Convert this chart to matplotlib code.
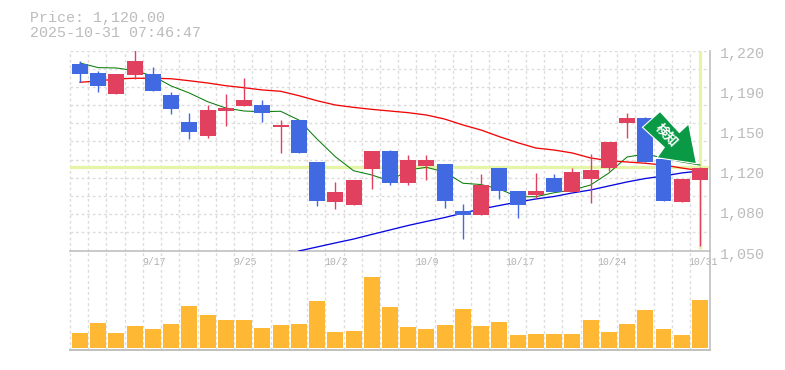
import matplotlib
matplotlib.use("Agg")
import matplotlib.pyplot as plt
from matplotlib.patches import Polygon
from matplotlib.transforms import Affine2D
import numpy as np

title_lines = ["Price: 1,120.00", "2025-10-31 07:46:47"]
current_price = 1120.0

opens = [1208.2,1200.6,1182.8,1198.9,1199.7,1181.9,1159.1,1147.3,1168.4,1172.6,1173.5,1154.9,1160.8,1125.3,1091.4,1088.9,1119.4,1134.6,1107.5,1121.9,1123.6,1083.8,1080.4,1120.2,1100.7,1097.4,1111.7,1099.9,1110.9,1120.2,1158.3,1162.5,1127.8,1091.4,1110.0]
closes = [1199.7,1189.6,1199.7,1210.7,1185.3,1170.1,1150.7,1169.3,1170.9,1177.7,1166.7,1156.6,1132.9,1092.3,1099.9,1110.0,1134.6,1107.5,1127.0,1127.0,1092.3,1080.4,1105.8,1100.7,1088.9,1100.7,1099.9,1116.8,1118.5,1142.2,1162.5,1125.3,1092.3,1110.9,1120.6]
highs = [1210.7,1202.2,1199.7,1220.0,1205.6,1184.5,1166.7,1173.5,1182.8,1196.3,1177.7,1160.8,1160.8,1125.3,1108.4,1110.0,1134.6,1135.4,1131.2,1131.2,1123.6,1089.8,1115.1,1120.2,1100.7,1116.0,1115.1,1120.2,1132.0,1142.2,1166.7,1163.3,1127.8,1110.9,1121.0]
lows = [1192.7,1184.5,1182.8,1195.7,1185.3,1165.9,1144.7,1145.6,1155.7,1172.6,1159.1,1132.9,1132.9,1088.1,1085.5,1088.9,1102.4,1105.8,1105.8,1110.0,1086.4,1060.1,1080.4,1094.0,1077.9,1094.8,1099.9,1099.9,1090.6,1117.7,1145.6,1125.3,1092.3,1091.4,1054.2]

ma_short = [1209.0,1205.1,1204.8,1202.5,1198.0,1189.6,1183.6,1176.3,1170.9,1168.4,1167.8,1168.2,1160.8,1144.7,1129.8,1117.9,1114.3,1109.2,1118.5,1120.8,1116.8,1107.3,1106.2,1102.4,1095.9,1095.9,1099.3,1101.6,1105.8,1115.9,1129.5,1132.0,1128.7,1125.3,1122.7]
ma_mid = [1192.7,1193.8,1195.5,1196.1,1196.1,1195.7,1194.0,1192.1,1189.8,1188.1,1186.2,1185.1,1181.4,1177.1,1173.5,1171.5,1169.8,1168.4,1167.0,1165.0,1161.6,1156.6,1152.3,1146.7,1141.6,1137.1,1135.4,1132.9,1128.7,1126.4,1125.3,1124.2,1122.7,1120.2,1117.9]
ma_long = [np.nan]*12 + [1050.0,1053.4,1056.8,1060.1,1064.0,1067.8,1071.6,1075.0,1078.3,1082.1,1085.5,1088.5,1091.4,1094.0,1096.1,1099.1,1101.6,1105.0,1108.4,1111.3,1113.4,1116.0,1117.7]

volumes = [15,25,15,22,19,24,42,33,28,28,20,23,24,47,16,17,71,41,21,19,23,39,22,26,13,14,14,14,28,16,24,38,19,13,48]

price_ticks = [1186, 1152, 1118, 1084]
price_tick_ends = [1220, 1050]
date_tick_idx = [4, 9, 14, 19, 24, 29, 34]
date_labels = ["9/17", "9/25", "10/2", "10/9", "10/17", "10/24", "10/31"]

RED, BLUE, ORANGE = "#e2405f", "#4169e1", "#ffb833"
GRID, AXIS, TEXT, HL = "#dcdcdc", "#c0c0c0", "#bcbcbc", "#e4f5a8"
W, H = 785, 370
MONO = "Liberation Mono"

fig = plt.figure(figsize=(W/100, H/100), dpi=100, facecolor="white")
def rect(l, t, r, b):
    return [l/W, 1-b/H, (r-l)/W, (b-t)/H]
ax = fig.add_axes(rect(70, 50.5, 710, 250.5))
av = fig.add_axes(rect(70, 250.5, 710, 350))

x = np.arange(len(opens))
xlim = (-0.548, 34.55)
for a in (ax, av):
    a.set_xlim(*xlim)
    a.set_facecolor("none")
    a.set_xticks([]); a.set_yticks([])
    for s in ("top", "left"):
        a.spines[s].set_visible(False)
    for s in ("bottom", "right"):
        a.spines[s].set_color(AXIS); a.spines[s].set_linewidth(1.2)
    a.vlines(xlim[0] + np.arange(35), 0, 1, transform=a.get_xaxis_transform(),
             colors=GRID, lw=1, linestyles=(0, (2, 2)), zorder=1, clip_on=False)
ax.spines["bottom"].set_visible(False)
ax.set_ylim(1050.42, 1219.58)
av.set_ylim(-2, 97.5)
av.spines["bottom"].set_linewidth(1.4)

# base line between panels
ax.axhline(1050.42, color=AXIS, lw=1.2, zorder=2, clip_on=False)
# horizontal dashed grid: 11 equal intervals
ax.hlines(np.linspace(1050.42, 1219.58, 12)[1:], 0, 1, transform=ax.get_yaxis_transform(),
          colors=GRID, lw=1, linestyles=(0, (2, 2)), zorder=1)

# current-price cross hair
ax.axhline(current_price + 1.0, color=HL, lw=2.3, zorder=2)
ax.vlines(34, 1052.0, 1219.0, color=HL, lw=2.3, zorder=2)

ax.plot(x, ma_short, color="#0a7d0a", lw=0.75, zorder=3)
ax.plot(x, ma_mid, color="#f00808", lw=0.95, zorder=3)
ax.plot(x, ma_long, color="#0808e0", lw=0.95, zorder=3)

colors = [RED if c >= o else BLUE for o, c in zip(opens, closes)]
ax.vlines(x, lows, highs, colors=colors, lw=1.0, zorder=4)
ax.bar(x, np.abs(np.array(closes) - np.array(opens)), bottom=np.minimum(opens, closes),
       width=0.877, color=colors, lw=0, zorder=5)
av.bar(x, volumes, width=0.877, color=ORANGE, lw=0, zorder=3)

# text
fig.text(30/W, 1-18.3/H, title_lines[0], family=MONO, fontsize=10.8, color=TEXT, va="center", ha="left")
fig.text(30/W, 1-33.3/H, title_lines[1], family=MONO, fontsize=10.8, color=TEXT, va="center", ha="left")
for v in price_ticks + price_tick_ends:
    label = f"{round(v, -1):,}"
    ax.annotate(label, xy=(1, v), xycoords=("axes fraction", "data"), xytext=(7.4, -2.6),
                textcoords="offset points", family=MONO, fontsize=10.8, color=TEXT,
                va="center", ha="left", annotation_clip=False)
for i, lab in zip(date_tick_idx, date_labels):
    off = 2 if len(lab) == 5 else 0.6
    ax.annotate(lab, xy=(i, 0), xycoords=("data", "axes fraction"), xytext=(off, -8.2),
                textcoords="offset points", family=MONO, fontsize=7.1, color="#b0b0b0",
                va="center", ha="center", annotation_clip=False)

# signal arrow badge (figure pixels, y from top)
px = Affine2D().scale(1, -1).translate(0, H)
arrow = [(660, 112.3), (643.3, 127.3), (665, 147.3), (658, 157.3), (695.7, 163), (688.3, 125), (679.3, 133.3)]
fig.add_artist(Polygon(arrow, closed=True, transform=px, facecolor="#0a9a46",
                       edgecolor="white", lw=1.6, joinstyle="miter", zorder=10))
fig.add_artist(Polygon(arrow, closed=True, transform=px, facecolor="#0a9a46",
                       edgecolor="none", zorder=11))
fig.text(667/W, 1-135/H, "検知", family=["Noto Sans CJK JP", "DejaVu Sans"], fontsize=9.5,
         fontweight="bold", color="white", rotation=-47, ha="center", va="center",
         rotation_mode="anchor", zorder=12)

fig.savefig("out.png", dpi=100)
